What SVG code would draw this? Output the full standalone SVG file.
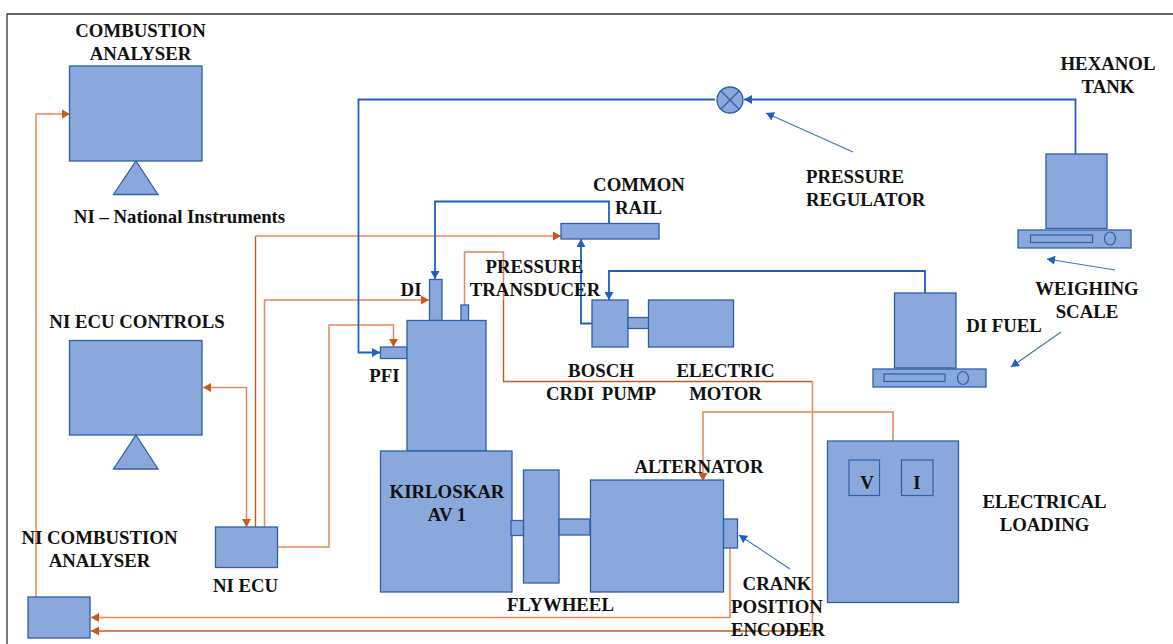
<svg xmlns="http://www.w3.org/2000/svg" width="1173" height="644" viewBox="0 0 1173 644">
<style>
.s{fill:#8aa8dc;stroke:#2f5fa5;stroke-width:1.3}
.i{fill:none;stroke:#2f5fa5;stroke-width:1.2}
.o,.d,.b,.t{fill:none}
.o{stroke:#e8875a;stroke-width:1.5}
.d{stroke:#c9591a;stroke-width:1.4}
.b{stroke:#1f5fbd;stroke-width:1.8}
.t{stroke:#3d72c4;stroke-width:1.1}
text{font-family:"Liberation Serif","Times New Roman",serif;font-weight:bold;font-size:18.8px;fill:#111;text-anchor:middle}
.l{text-anchor:start}
</style>
<defs>
<marker id="ao" markerUnits="userSpaceOnUse" markerWidth="10" markerHeight="9" refX="8" refY="4.5" orient="auto-start-reverse"><path d="M0 0L8 4.5L0 9Z" fill="#c9591a"/></marker>
<marker id="ab" markerUnits="userSpaceOnUse" markerWidth="10" markerHeight="9" refX="8" refY="4.5" orient="auto"><path d="M0 0L8 4.5L0 9Z" fill="#1f5fbd"/></marker>
</defs>
<path id="frame" d="M7 644V14H1173" fill="none" stroke="#333" stroke-width="1.3"/>
<g id="connectors">
<path class="o" marker-end="url(#ao)" d="M36 597V114H70"/>
<path class="o" marker-start="url(#ao)" marker-end="url(#ao)" d="M203 387.500H246.500V527"/>
<path class="d" d="M225 528H255.500V236"/>
<path class="o" marker-end="url(#ao)" d="M255.500 236H561"/>
<path class="o" marker-end="url(#ao)" d="M264.500 527V300H429"/>
<path class="o" marker-end="url(#ao)" d="M277 547H329V325H393.500V347"/>
<path class="o" d="M464.500 305V252H503.500V300"/>
<path class="d" d="M503.500 300V381.500H812.500"/>
<path class="o" d="M812.500 381.500V631"/>
<path class="d" marker-end="url(#ao)" d="M812.500 631H91"/>
<path class="o" marker-end="url(#ao)" d="M730 548V617.500H91"/>
<path class="o" marker-end="url(#ao)" d="M893 441V412H703V481"/>
<path class="b" marker-end="url(#ab)" d="M1075.500 154V99.500H744"/>
<path class="b" marker-end="url(#ab)" d="M715 99.500H358.500V352.500H380"/>
<path class="b" marker-end="url(#ab)" d="M609 223V201.500H435V279"/>
<path class="b" marker-end="url(#ab)" d="M592 323.500H581V239"/>
<path class="b" marker-end="url(#ab)" d="M925 293V271H609V300"/>
<path class="t" marker-end="url(#ab)" d="M853 152L766 113"/>
<path class="t" marker-end="url(#ab)" d="M1115 270L1047 259"/>
<path class="t" marker-end="url(#ab)" d="M1061 332L1011 367"/>
<path class="t" marker-end="url(#ab)" d="M790 569L739 535"/>
</g>
<g id="combustion-analyser"><rect class="s" x="69.500" y="66" width="132.500" height="95"/><path class="s" d="M136 161L158 194.500H113.500Z"/><text x="140.500" y="37">COMBUSTION</text><text x="140.500" y="60">ANALYSER</text></g>
<g id="ni-legend"><text x="179.500" y="223">NI – National Instruments</text></g>
<g id="ni-ecu-controls"><rect class="s" x="69.500" y="340.500" width="132.500" height="94.500"/><path class="s" d="M136 435L158 469H113.500Z"/><text x="137" y="328">NI ECU CONTROLS</text></g>
<g id="ni-ecu"><rect class="s" x="215.500" y="527" width="62" height="40.500"/><text x="245.500" y="592">NI ECU</text></g>
<g id="ni-combustion-analyser"><rect class="s" x="28" y="597" width="62" height="41"/><text x="99.500" y="544">NI COMBUSTION</text><text x="99.500" y="567">ANALYSER</text></g>
<g id="regulator"><circle class="s" cx="730" cy="100" r="13"/><path class="i" d="M721 91L739 109M739 91L721 109"/><text class="l" x="806" y="183">PRESSURE</text><text class="l" x="806" y="206">REGULATOR</text></g>
<g id="hexanol-tank"><rect class="s" x="1046" y="154" width="61" height="74.500"/><rect class="s" x="1018" y="230" width="113" height="18"/><rect class="i" x="1030.500" y="235" width="62" height="7.500"/><ellipse class="i" cx="1110" cy="238.500" rx="5.500" ry="6.500"/><text x="1108" y="70">HEXANOL</text><text x="1108" y="93">TANK</text></g>
<g id="weighing-scale"><text x="1087" y="295">WEIGHING</text><text x="1087" y="318">SCALE</text></g>
<g id="di-fuel"><rect class="s" x="894.500" y="293" width="61.500" height="75"/><rect class="s" x="873" y="369" width="113" height="18"/><rect class="i" x="884" y="374" width="61" height="7.500"/><ellipse class="i" cx="963" cy="378" rx="5.500" ry="6.500"/><text x="1004" y="332">DI FUEL</text></g>
<g id="common-rail"><rect class="s" x="561" y="223.500" width="98" height="15.500"/><text x="639" y="191">COMMON</text><text x="638.500" y="214">RAIL</text></g>
<g id="pump"><rect class="s" x="592" y="300" width="36" height="47"/><rect class="s" x="628" y="317.500" width="21" height="11"/><text x="601" y="377">BOSCH</text><text x="601" y="400" word-spacing="3">CRDI PUMP</text></g>
<g id="electric-motor"><rect class="s" x="648.500" y="300" width="85" height="47"/><text x="725.500" y="377">ELECTRIC</text><text x="725.500" y="400">MOTOR</text></g>
<g id="engine"><rect class="s" x="429.500" y="279.500" width="12.500" height="41"/><rect class="s" x="461" y="305" width="7.500" height="15.500"/><rect class="s" x="380.500" y="347" width="26.500" height="11.500"/><rect class="s" x="407" y="320.500" width="79" height="130.500"/><rect class="s" x="380.500" y="451" width="131.500" height="141"/><text x="411" y="296">DI</text><text x="384.500" y="382">PFI</text><text x="534.500" y="273">PRESSURE</text><text x="535" y="296">TRANSDUCER</text><text x="447" y="498">KIRLOSKAR</text><text x="447" y="521">AV 1</text></g>
<g id="flywheel"><rect class="s" x="511" y="520.500" width="12.500" height="15"/><rect class="s" x="523.500" y="470" width="35.500" height="113"/><rect class="s" x="559" y="519" width="31" height="16"/><text x="560.500" y="611">FLYWHEEL</text></g>
<g id="alternator"><rect class="s" x="590.500" y="480" width="133" height="112"/><text x="699" y="473">ALTERNATOR</text></g>
<g id="crank-encoder"><rect class="s" x="723.500" y="519" width="14" height="29"/><text x="777" y="590">CRANK</text><text x="777" y="613">POSITION</text><text x="778" y="636">ENCODER</text></g>
<g id="electrical-loading"><rect class="s" x="827.500" y="441" width="131" height="161.500"/><rect class="i" x="849" y="460" width="30.500" height="35.500"/><rect class="i" x="901.500" y="460" width="31.500" height="35.500"/><text x="867" y="489">V</text><text x="917" y="489">I</text><text x="1044.500" y="508">ELECTRICAL</text><text x="1044.500" y="531">LOADING</text></g>
</svg>
